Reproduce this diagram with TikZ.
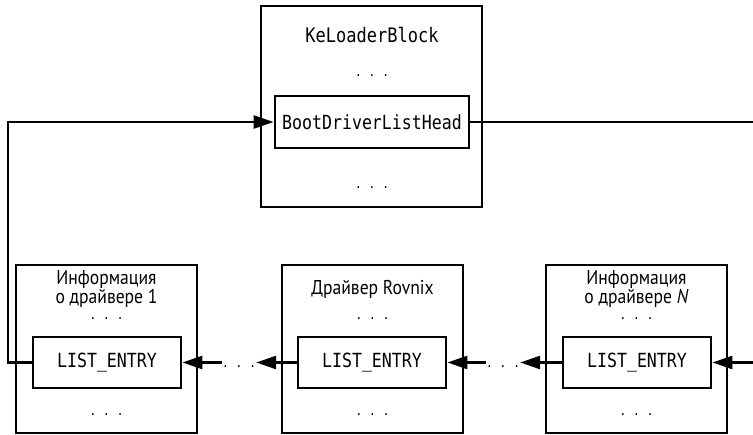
\documentclass[tikz,border=0pt]{standalone}
\usepackage{fontspec}
\setmainfont[FakeStretch=0.88]{PT Sans}
\setmonofont[FakeStretch=0.85]{DejaVu Sans Mono}
\usetikzlibrary{arrows.meta}

\newcommand{\gapdots}{.\hspace{7pt}.\hspace{7pt}.}

\begin{document}
\begin{tikzpicture}[x=1pt, y=-1pt,
    outer/.style={draw, line width=2.8pt, minimum width=181pt, minimum height=168pt},
    field/.style={draw, line width=2.8pt, minimum width=148pt, minimum height=51pt,
      font=\ttfamily\fontsize{19.5}{20}\selectfont},
    title/.style={inner sep=0pt, align=center, font=\fontsize{20}{17}\selectfont},
    code/.style={inner sep=0pt, anchor=base, font=\ttfamily\fontsize{20}{20}\selectfont},
    dots/.style={inner sep=0pt, anchor=base, font=\ttfamily\fontsize{13}{13}\selectfont},
    link/.style={line width=2.6pt, -{Triangle[length=20pt, width=13pt]}},
    wire/.style={line width=2.6pt}]
    \useasboundingbox (0,0) rectangle (753,435);

    % KeLoaderBlock
    \node[outer, minimum width=221pt, minimum height=201pt] (block) at (371.5,106.5) {};
    \node[code] (blockname) at (372,43) {KeLoaderBlock};
    \node[dots] (blockdotsA) at (372,77) {\gapdots};
    \node[field, minimum width=194pt, minimum height=52pt] (head) at (372,122) {BootDriverListHead};
    \node[dots] (blockdotsB) at (372,189) {\gapdots};

    % drivers
    \node[outer] (drvA) at (106.5,349) {};
    \node[outer] (drvB) at (372.5,349) {};
    \node[outer] (drvC) at (636.5,349) {};

    \node[title, anchor=north] (nameA) at (106.5,270) {Информация\\о драйвере 1};
    \node[title, anchor=base] (nameB) at (372.5,295) {Драйвер Rovnix};
    \node[title, anchor=north] (nameC) at (636.5,270) {Информация\\о драйвере \textit{N}};

    \node[dots] (dotsA) at (106.5,320) {\gapdots};
    \node[dots] (dotsB) at (372.5,320) {\gapdots};
    \node[dots] (dotsC) at (636.5,320) {\gapdots};

    \node[field] (entryA) at (107,362.5) {LIST\_ENTRY};
    \node[field] (entryB) at (372,362.5) {LIST\_ENTRY};
    \node[field] (entryC) at (637,362.5) {LIST\_ENTRY};

    \node[dots] (tailA) at (106.5,416) {\gapdots};
    \node[dots] (tailB) at (372.5,416) {\gapdots};
    \node[dots] (tailC) at (636.5,416) {\gapdots};

    \node[dots] (gapA) at (239,368) {\gapdots};
    \node[dots] (gapB) at (503,368) {\gapdots};

    \coordinate (headout) at (753,122);
    \coordinate (entryin) at (753,362.5);
    \coordinate (back) at (8,122);

    % list links
    \draw[wire] (head.east) -- (headout);
    \draw[link] (entryA.west) -| (back) -- (head.west);
    \draw[link] (entryin) -- (entryC.east);
    \draw[link] (entryC.west) -- (entryC.west -| gapB.east);
    \draw[link] (gapB.west |- entryB.east) -- (entryB.east);
    \draw[link] (entryB.west) -- (entryB.west -| gapA.east);
    \draw[link] (gapA.west |- entryA.east) -- (entryA.east);
\end{tikzpicture}
\end{document}
